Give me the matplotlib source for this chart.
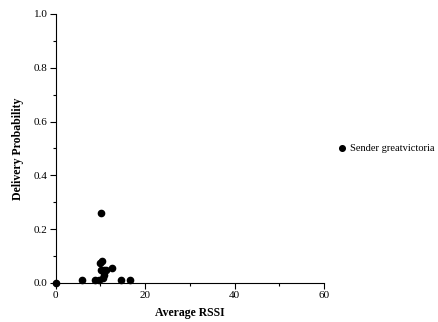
import matplotlib
matplotlib.use("Agg")
import matplotlib.pyplot as plt
from matplotlib.ticker import MultipleLocator

avg_rssi = [0.0, 5.9, 8.7, 9.6, 10.0, 10.3, 10.1, 10.1, 10.5, 10.9, 11.2, 10.7, 12.7, 14.6, 16.7]
delivery_prob = [0.0, 0.011, 0.011, 0.010, 0.073, 0.082, 0.261, 0.048, 0.017, 0.048, 0.048, 0.030, 0.055, 0.011, 0.011]
series_label = "Sender greatvictoria"

plt.rcParams['font.family'] = ['Liberation Serif', 'DejaVu Serif']

fig = plt.figure(figsize=(4.39, 3.22), dpi=100)
W, H = 439, 322
ax = fig.add_axes([55.7 / W, (H - 283) / H, (324 - 55.7) / W, (283 - 14) / H])

ax.plot(avg_rssi, delivery_prob, 'o', color='black', ms=4.5, clip_on=False, label=series_label, zorder=5)

ax.set_xlim(0, 60)
ax.set_ylim(0, 1.0)
ax.xaxis.set_major_locator(MultipleLocator(20))
ax.xaxis.set_minor_locator(MultipleLocator(10))
ax.yaxis.set_major_locator(MultipleLocator(0.2))
ax.yaxis.set_minor_locator(MultipleLocator(0.1))
ax.yaxis.set_major_formatter(matplotlib.ticker.FormatStrFormatter('%.1f'))

for s in ['top', 'right']:
    ax.spines[s].set_visible(False)
for s in ['left', 'bottom']:
    ax.spines[s].set_linewidth(0.8)

ax.tick_params(which='major', length=4, width=0.8, labelsize=8, pad=2, colors='black')
ax.tick_params(which='minor', length=2, width=0.8)

ax.set_xlabel('Average RSSI', fontsize=8.5, fontweight='bold', labelpad=5)
ax.set_ylabel('Delivery Probability', fontsize=8.5, fontweight='bold', labelpad=7)

ax.legend(loc='center left', bbox_to_anchor=(1.057, 0.5), frameon=False, fontsize=7.5,
          handlelength=0.6, handletextpad=0.4, markerscale=0.9, borderaxespad=0, borderpad=0)

fig.savefig('out.png', dpi=100)
